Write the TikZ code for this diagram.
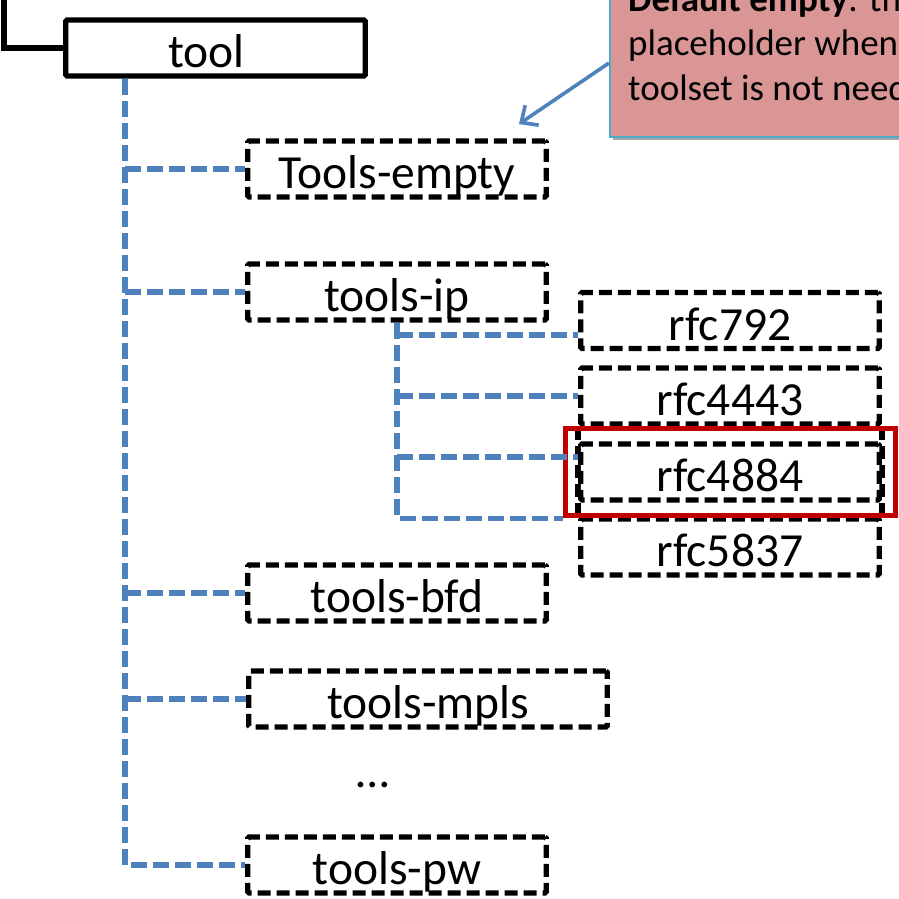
\documentclass[tikz,border=0pt]{standalone}
\usepackage{fontspec}
\setmainfont{Carlito}
\usetikzlibrary{shadows,arrows.meta}
\definecolor{oblue}{HTML}{4F81BD}
\definecolor{ored}{HTML}{C00000}
\definecolor{opink}{HTML}{D99694}
\definecolor{oedge}{HTML}{4BACC6}
\begin{document}
\begin{tikzpicture}[x=1pt,y=-1pt,
  boxbase/.style={line width=5.4pt, rounded corners=1.5pt, minimum height=56pt,
    minimum width=298.5pt, inner sep=0pt, text height=39pt, text depth=0pt,
    font=\fontsize{47.5}{50}\selectfont},
  solidbox/.style={boxbase, draw=black},
  dashbox/.style={boxbase, draw=black, dash pattern=on 13pt off 6pt},
  blueline/.style={draw=oblue, line width=5.2pt, dash pattern=on 16pt off 6pt},
  blackline/.style={draw=black, line width=5.4pt},
  sideline/.style={draw=black, line width=5.4pt, dash pattern=on 13pt off 6pt},
  calltext/.style={anchor=base west, inner sep=0pt, font=\fontsize{37}{44}\selectfont}]
\useasboundingbox (0,0) rectangle (899,899);
\clip (0,0) rectangle (899,899);
\fill[white] (0,0) rectangle (899,899);

% callout
\node[draw=oedge, line width=2pt, fill=opink, minimum width=352pt, minimum height=162pt,
  inner sep=0pt, drop shadow={shadow xshift=3pt, shadow yshift=-3pt, fill=black!35, opacity=1}]
  (callout) at (786,56) {};
\node[calltext] (cl1) at (628,12) {\textbf{Default empty}: the};
\node[calltext] (cl2) at (628,56) {placeholder when};
\node[calltext] (cl3) at (628,100) {toolset is not needed};
\coordinate (tip) at (519,124);
\draw[draw=oblue, line width=3.6pt, -{Straight Barb[length=13pt,width=24pt]}] ([yshift=-7pt]callout.west) -- (tip);

% top-level box
\node[solidbox, minimum width=299.5pt] (tool) at (215.5,48) {\hspace*{-18pt}tool};
\coordinate (corner) at (4,-5);
\draw[blackline] (corner) |- (tool.west);

% level-2 boxes
\node[dashbox] (empty) at (397,169) {Tools-empty};
\node[dashbox] (ip) at (397,292) {tools-ip};
\node[dashbox] (bfd) at (397,593) {tools-bfd};
\node[dashbox, minimum width=358.5pt] (mpls) at (428,699) {tools-mpls};
\node[anchor=base, inner sep=0pt, font=\fontsize{47.5}{50}\selectfont] (dots) at (373,787) {…};
\node[dashbox] (pw) at (397,865) {tools-pw};

% rfc boxes
\node[dashbox] (rfc792) at (730,320.5) {rfc792};
\node[dashbox] (rfc4443) at (730,396) {rfc4443};
\node[dashbox] (rfc5837) at (730,547) {rfc5837};
\draw[sideline] (rfc4443.south west) -- (rfc5837.north west);
\draw[sideline] (rfc4443.south east) -- (rfc5837.north east);
\node[dashbox, fill=white] (rfc4884) at (730,472) {rfc4884};
\node[draw=ored, line width=5.4pt, minimum width=330pt, minimum height=87pt, inner sep=0pt]
  (redbox) at (730.5,472) {};

% blue tree connectors
\coordinate (trunk) at (125,79);
\draw[blueline] (trunk) |- (pw.west);
\foreach \n in {empty,ip,bfd,mpls} \draw[blueline] (trunk |- \n.west) -- (\n.west);

\path (rfc792.west) ++(0,14.5) coordinate (e1);
\path (rfc4884.west) ++(0,-15) coordinate (e3);
\draw[blueline] (ip.south) |- (redbox.south west);
\draw[blueline] (ip.south |- e1) -- (e1);
\draw[blueline] (ip.south |- rfc4443.west) -- (rfc4443.west);
\draw[blueline] (ip.south |- e3) -- (e3);
\end{tikzpicture}
\end{document}
